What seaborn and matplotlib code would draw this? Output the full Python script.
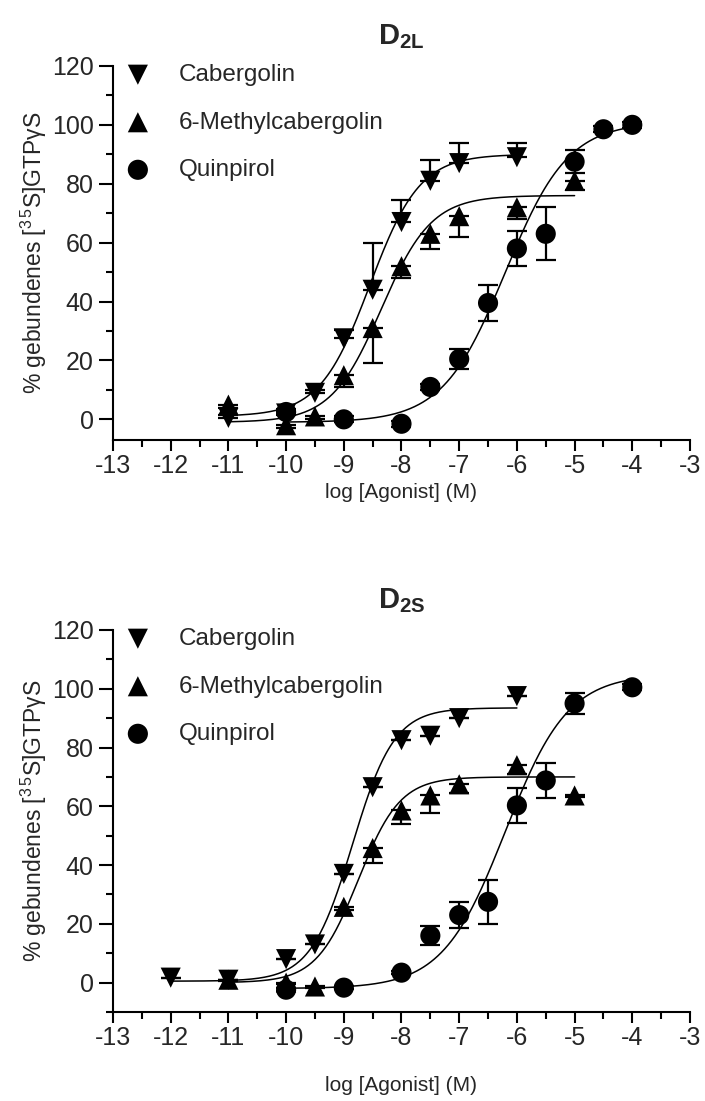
import matplotlib
matplotlib.use("Agg")
import matplotlib.pyplot as plt
from matplotlib.ticker import MultipleLocator
import numpy as np
import seaborn as sns

# --- Daten ---
compounds = ["Cabergolin", "6-Methylcabergolin", "Quinpirol"]
markers = ["v", "^", "o"]
err_side = ["up", "down", "both"]

# D2L
d2l_cab_x = [-11, -10, -9.5, -9, -8.5, -8, -7.5, -7, -6]
d2l_cab_y = [0.5, 2, 9, 27.5, 44, 67, 81, 87, 89]
d2l_cab_err = [1, 1, 1, 3, 16, 7.5, 7, 7, 5]

d2l_mc_x = [-11, -10, -9.5, -9, -8.5, -8, -7.5, -7, -6, -5]
d2l_mc_y = [5, -2, 1, 15, 31, 52, 63, 69, 72, 81]
d2l_mc_err = [1, 1, 1, 4, 12, 4, 5, 7, 4, 3]

d2l_q_x = [-10, -9, -8, -7.5, -7, -6.5, -6, -5.5, -5, -4.5, -4]
d2l_q_y = [2.5, 0, -1.5, 11, 20.5, 39.5, 58, 63, 87.5, 98.5, 100]
d2l_q_err = [1, 1, 1, 1, 3.5, 6, 6, 9, 4, 1, 1]

# D2S
d2s_cab_x = [-12, -11, -10, -9.5, -9, -8.5, -8, -7.5, -7, -6]
d2s_cab_y = [1.7, 1, 8, 13, 37, 66.5, 82.5, 84, 90, 97.5]
d2s_cab_err = [0, 0, 0, 0, 0, 0, 0, 0, 0, 0]

d2s_mc_x = [-11, -10, -9.5, -9, -8.5, -8, -7.5, -7, -6, -5]
d2s_mc_y = [1, 0, -1.3, 25.8, 45.8, 58.6, 63.7, 67.5, 74, 63.7]
d2s_mc_err = [0.5, 0.5, 0.5, 1, 5, 4.5, 6, 3, 3, 0.5]

d2s_q_x = [-10, -9, -8, -7.5, -7, -6.5, -6, -5.5, -5, -4]
d2s_q_y = [-2.4, -1.7, 3.4, 16, 23, 27.5, 60.3, 68.8, 95, 100.5]
d2s_q_err = [0.5, 0.5, 0.5, 3.3, 4.5, 7.5, 6, 6, 3.5, 1]

# Fit-Parameter (Bottom, Top, logEC50, Hill, x von, x bis)
d2l_fits = [(1, 90, -8.55, 1.0, -11, -6),
            (-1, 76, -8.35, 1.0, -11, -5),
            (-1, 101, -6.2, 0.8, -10, -4)]
d2s_fits = [(0.5, 93.5, -8.85, 1.2, -12, -6),
            (0, 70, -8.75, 1.2, -11, -5),
            (-2, 105, -6.2, 0.8, -10, -4)]

x_ticks = list(range(-13, -2))
y_ticks = [0, 20, 40, 60, 80, 100, 120]

sns.set_theme(style="ticks")
plt.rcParams["font.family"] = ["Liberation Sans", "DejaVu Sans"]
plt.rcParams["mathtext.fontset"] = "custom"
plt.rcParams["mathtext.rm"] = "Liberation Sans"
plt.rcParams["mathtext.bf"] = "Liberation Sans:bold"
plt.rcParams["mathtext.it"] = "Liberation Sans:italic"
plt.rcParams["axes.unicode_minus"] = False


def panel(ax, title, series, fits, ymin, xlabelpad):
    for (x, y, err), (b, t, ec, h, x0, x1), name, m, side in zip(series, fits, compounds, markers, err_side):
        xs = np.linspace(x0, x1, 300)
        ys = b + (t - b) / (1 + 10 ** ((ec - xs) * h))
        sns.lineplot(x=xs, y=ys, color="black", linewidth=1.1, ax=ax, zorder=1)
        err = np.array(err)
        lo = err if side in ("down", "both") else np.zeros_like(err)
        hi = err if side in ("up", "both") else np.zeros_like(err)
        ax.errorbar(x, y, yerr=[lo, hi], fmt="none", ecolor="black",
                    elinewidth=1.6, capsize=7, capthick=1.6, zorder=2)
        sns.scatterplot(x=x, y=y, marker=m, color="black", s=210,
                        edgecolor="none", label=name, ax=ax, zorder=3)

    ax.set_xlim(-13, -3)
    ax.set_ylim(ymin, 120)
    ax.set_xticks(x_ticks)
    ax.set_xticklabels([str(v) for v in x_ticks])
    ax.set_yticks(y_ticks)
    ax.set_yticklabels([str(v) for v in y_ticks])
    ax.xaxis.set_minor_locator(MultipleLocator(0.5))
    ax.yaxis.set_minor_locator(MultipleLocator(10))
    ax.tick_params(axis="x", which="major", length=8, width=1.5, labelsize=18, color="black", pad=2)
    ax.tick_params(axis="y", which="major", length=10, width=1.5, labelsize=18, color="black", pad=4)
    ax.tick_params(which="minor", length=5, width=1.5, color="black")
    sns.despine(ax=ax)
    for s in ["left", "bottom"]:
        ax.spines[s].set_linewidth(1.5)
        ax.spines[s].set_color("black")
    ax.set_xlabel("log [Agonist] (M)", fontsize=15, labelpad=xlabelpad)
    ax.set_ylabel("% gebundenes [$^{3\\,5}$S]GTPγS", fontsize=16.5, labelpad=2)
    ax.set_title(title, fontsize=21, pad=16)
    ax.legend(loc="upper left", bbox_to_anchor=(0.022, 1.005), frameon=False,
              borderpad=0, borderaxespad=0, handlelength=1.0, handletextpad=1.2,
              labelspacing=1.05, fontsize=17.5)


fig = plt.figure(figsize=(7.05, 11.01), dpi=100)
ax1 = fig.add_axes([0.1603, 0.6004, 0.8184, 0.3397])
ax2 = fig.add_axes([0.1603, 0.0808, 0.8184, 0.347])

panel(ax1, r"$\mathbf{D_{2L}}$",
      [(d2l_cab_x, d2l_cab_y, d2l_cab_err), (d2l_mc_x, d2l_mc_y, d2l_mc_err), (d2l_q_x, d2l_q_y, d2l_q_err)],
      d2l_fits, -7, 4)
panel(ax2, r"$\mathbf{D_{2S}}$",
      [(d2s_cab_x, d2s_cab_y, d2s_cab_err), (d2s_mc_x, d2s_mc_y, d2s_mc_err), (d2s_q_x, d2s_q_y, d2s_q_err)],
      d2s_fits, -10, 19)

fig.savefig("out.png", dpi=100, facecolor="white")
